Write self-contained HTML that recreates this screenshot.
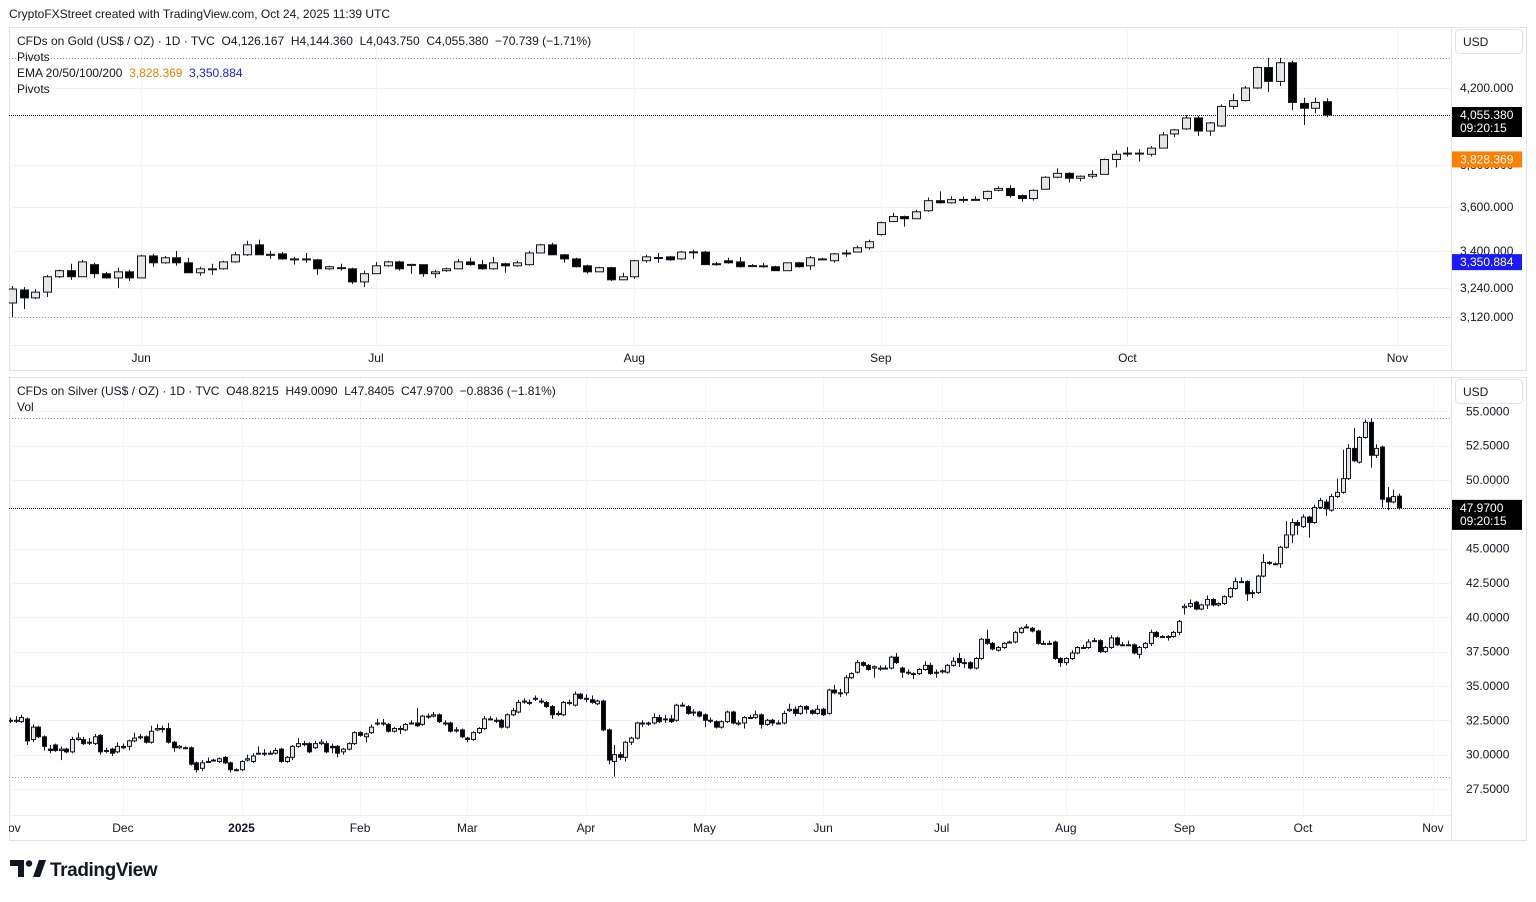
<!DOCTYPE html>
<html><head><meta charset="utf-8"><title>Gold vs Silver</title>
<style>
html,body{margin:0;padding:0;background:#fff;}
body{width:1536px;height:897px;overflow:hidden;font-family:"Liberation Sans",sans-serif;}
svg text{font-family:"Liberation Sans",sans-serif;white-space:pre;}
</style></head>
<body>
<svg id="chart" width="1536" height="897" viewBox="0 0 1536 897" xmlns="http://www.w3.org/2000/svg">
<rect x="0" y="0" width="1536" height="897" fill="#fff"/>
<defs>
<clipPath id="gclip"><rect x="9" y="28" width="1442" height="317"/></clipPath>
<clipPath id="sclip"><rect x="9" y="378" width="1442" height="437"/></clipPath>
<clipPath id="gtclip"><rect x="9" y="345" width="1442" height="26"/></clipPath>
<clipPath id="stclip"><rect x="9" y="815" width="1442" height="26"/></clipPath>
</defs>
<text x="9" y="18" font-size="12" fill="#131722">CryptoFXStreet created with TradingView.com, Oct 24, 2025 11:39 UTC</text>
<rect x="9.5" y="27.5" width="1517" height="343" fill="none" stroke="#e0e3eb"/>
<rect x="9.5" y="377.5" width="1517" height="463" fill="none" stroke="#e0e3eb"/>
<line x1="1451.5" y1="28" x2="1451.5" y2="371" stroke="#e0e3eb"/>
<line x1="1451.5" y1="378" x2="1451.5" y2="841" stroke="#e0e3eb"/>
<line x1="9" y1="345.5" x2="1451" y2="345.5" stroke="#eef0f4"/>
<line x1="9" y1="815.5" x2="1451" y2="815.5" stroke="#eef0f4"/>
<g id="gGrid"></g><g id="sGrid"></g>
<g id="gMarks" clip-path="url(#gclip)"></g>
<g id="sMarks" clip-path="url(#sclip)"></g>
<g id="gTime" clip-path="url(#gtclip)"></g>
<g id="sTime" clip-path="url(#stclip)"></g>
<g id="gAxis"></g><g id="sAxis"></g>
<g font-size="12" fill="#131722">
<text x="17" y="45" xml:space="preserve">CFDs on Gold (US$ / OZ) · 1D · TVC  O4,126.167  H4,144.360  L4,043.750  C4,055.380  −70.739 (−1.71%)</text>
<text x="17" y="61">Pivots</text>
<text x="17" y="77" xml:space="preserve">EMA 20/50/100/200  <tspan fill="#f57c00">3,828.369</tspan>  <tspan fill="#1a1aff">3,350.884</tspan></text>
<text x="17" y="93">Pivots</text>
</g>
<g font-size="12" fill="#131722">
<text x="17" y="395" xml:space="preserve">CFDs on Silver (US$ / OZ) · 1D · TVC  O48.8215  H49.0090  L47.8405  C47.9700  −0.8836 (−1.81%)</text>
<text x="17" y="411">Vol</text>
</g>
<g>
<rect x="1455.5" y="29.5" width="67" height="24" rx="4" fill="#fff" stroke="#e0e3eb"/>
<text x="1463" y="46" font-size="12" fill="#131722">USD</text></g>
<g>
<rect x="1455.5" y="379.5" width="67" height="24" rx="4" fill="#fff" stroke="#e0e3eb"/>
<text x="1463" y="396" font-size="12" fill="#131722">USD</text></g>
<g id="labels"></g>
<g>
<path d="M10 860 h14 v17 h-6 v-11 h-8 z" fill="#131722"/>
<circle cx="29" cy="863.5" r="3.2" fill="#131722"/>
<path d="M33 877 l6 -17 h7 l-6 17 z" fill="#131722"/>
<text x="50" y="876" font-size="19" font-weight="bold" fill="#131722" letter-spacing="-0.4">TradingView</text>
</g>
</svg>
<script>
// ---------- GOLD data ----------
const goldOpen=[3178,3232,3199,3223,3288,3314,3288,3340,3301,3283,
3309,3283,3378,3348,3370,3348,3305,3322,3322,3352,
3383,3427,3383,3387,3365,3362,3361,3322,3327,3322,
3266,3301,3335,3352,3340,3340,3301,3314,3322,3352,
3340,3322,3344,3335,3340,3391,3427,3383,3365,3335,
3309,3327,3275,3288,3357,3370,3374,3365,3395,3395,
3344,3357,3352,3335,3335,3331,3314,3348,3335,3361,
3357,3391,3395,3414,3473,3532,3555,3545,3582,3629,
3619,3634,3635,3639,3678,3687,3653,3639,3683,3741,
3760,3736,3746,3755,3828,3859,3860,3854,3885,3957,
3983,4040,3972,3998,4101,4132,4200,4313,4236,4340,
4117,4091,4126.167];
const goldClose=[3236,3199,3223,3288,3314,3288,3352,3301,3283,3309,
3283,3378,3348,3370,3348,3305,3322,3320,3352,3383,
3427,3383,3385,3365,3362,3365,3322,3331,3326,3266,
3301,3335,3352,3322,3341,3301,3309,3322,3352,3340,
3322,3348,3335,3348,3391,3427,3383,3365,3331,3309,
3327,3275,3288,3357,3374,3371,3361,3395,3396,3340,
3343,3348,3331,3336,3334,3314,3348,3331,3370,3365,
3387,3390,3414,3441,3527,3555,3545,3577,3629,3619,
3634,3635,3634,3673,3687,3653,3639,3678,3741,3760,
3736,3746,3755,3828,3854,3860,3859,3885,3952,3978,
4040,3972,4014,4101,4132,4200,4313,4236,4340,4122,
4091,4122,4055.38];
const goldHigh=[3249,3244,3236,3296,3318,3344,3361,3348,3309,3327,
3318,3383,3387,3378,3400,3370,3331,3344,3357,3396,
3445,3450,3400,3396,3374,3391,3365,3335,3344,3327,
3314,3352,3357,3357,3344,3340,3318,3327,3365,3370,
3361,3374,3348,3357,3400,3432,3436,3387,3370,3340,
3331,3331,3305,3361,3383,3391,3378,3400,3405,3400,
3352,3370,3374,3342,3348,3335,3348,3352,3378,3370,
3391,3405,3423,3450,3532,3573,3559,3586,3644,3673,
3649,3649,3649,3678,3697,3702,3658,3683,3746,3784,
3765,3750,3775,3833,3874,3890,3880,3895,3967,3983,
4055,4050,4019,4112,4169,4211,4319,4367,4367,4351,
4148,4148,4144.36];
const goldLow=[3120,3153,3194,3203,3283,3275,3288,3283,3279,3240,
3270,3283,3331,3344,3335,3305,3292,3296,3318,3348,
3378,3383,3365,3361,3340,3348,3296,3318,3314,3257,
3244,3301,3331,3314,3301,3288,3283,3309,3322,3335,
3318,3318,3305,3331,3335,3391,3383,3348,3327,3301,
3309,3270,3275,3279,3348,3348,3357,3361,3365,3340,
3335,3344,3327,3330,3327,3314,3314,3327,3318,3361,
3348,3374,3396,3405,3468,3532,3509,3545,3577,3615,
3615,3620,3629,3629,3673,3644,3624,3629,3683,3736,
3716,3721,3736,3755,3789,3843,3818,3843,3885,3941,
3978,3947,3947,3993,4086,4127,4195,4179,4211,4081,
4003,4065,4043.75];
const goldTicks=[4200,3800,3600,3400,3240,3120];
const goldTickLabels=["4,200.000","3,800.000","3,600.000","3,400.000","3,240.000","3,120.000"];
const goldMonths=["Jun","Jul","Aug","Sep","Oct","Nov"];
const goldMonthIdx=[11,31,53,74,95,118];
const goldPivots=[4367,3120];
const goldEma=[3828.369,3350.884];

// ---------- SILVER data ----------
const silverOpen=[32.5,32.5,32.4,32.6,31.1,32.0,31.3,30.4,30.7,30.3,
30.4,30.2,31.1,31.1,30.9,30.8,31.4,30.3,30.4,30.2,
30.6,30.6,31.0,31.3,31.3,30.9,31.8,31.9,31.9,30.9,
30.5,30.5,30.5,29.4,29.0,29.5,29.6,29.5,29.8,29.4,
28.9,28.9,29.6,29.5,30.1,30.1,30.1,30.1,30.4,29.5,
29.8,30.6,30.8,30.8,30.5,30.8,30.8,30.6,30.6,30.2,
30.4,30.8,31.6,31.3,31.6,32.3,32.3,32.2,31.7,31.9,
31.8,32.3,32.3,32.2,32.8,32.8,32.9,32.3,32.3,31.8,
31.8,31.2,31.1,31.6,31.9,32.6,32.5,32.5,32.0,32.9,
33.1,33.9,33.8,34.1,33.9,33.8,33.5,33.0,32.9,33.8,
33.6,34.4,34.1,34.0,33.7,33.9,31.8,29.5,30.0,29.8,
30.9,31.2,32.3,32.3,32.3,32.7,32.6,32.6,32.5,33.6,
33.5,33.1,33.1,32.9,32.5,32.4,32.0,32.4,33.1,32.3,
32.3,32.7,32.7,32.9,32.2,32.5,32.3,32.3,33.2,33.3,
33.0,33.5,33.2,33.0,33.3,33.0,34.7,34.5,34.5,35.6,
36.0,36.7,36.5,36.3,36.3,36.3,36.3,37.1,36.3,36.0,
35.9,35.9,36.2,36.5,36.0,36.1,36.0,36.5,37.0,36.7,
36.7,36.3,37.0,38.4,38.1,37.6,37.8,38.2,38.2,38.9,
39.3,39.2,39.0,38.1,38.1,38.2,37.0,36.7,37.0,37.4,
37.8,37.8,38.3,38.3,37.5,37.8,38.5,38.0,38.0,38.0,
37.3,37.8,38.1,38.9,38.6,38.6,38.6,38.9,40.7,40.8,
41.1,40.6,40.9,41.3,40.9,41.0,41.5,42.1,42.6,42.6,
41.8,41.8,43.0,44.0,43.9,43.9,45.1,46.0,46.9,46.6,
47.3,46.9,48.0,48.4,47.8,48.8,49.1,50.1,52.3,51.3,
53.1,54.2,51.8,52.4,48.7,48.4,48.8215];
const silverClose=[32.5,32.5,32.7,31.0,32.0,31.3,30.6,30.3,30.3,30.4,
30.2,31.1,31.2,30.8,30.9,31.3,30.2,30.3,30.1,30.6,
30.5,31.0,31.2,31.3,30.9,31.7,31.9,31.9,30.9,30.5,
30.6,30.5,29.3,28.9,29.4,29.5,29.6,29.7,29.4,28.9,
28.9,29.5,29.7,29.9,30.1,30.1,30.1,30.3,29.5,29.8,
30.6,30.8,30.8,30.2,30.8,30.9,30.2,30.5,30.1,30.4,
30.8,31.6,31.4,31.5,32.0,32.3,32.3,31.7,31.9,31.9,
32.2,32.3,32.1,32.8,32.8,32.9,32.4,32.3,31.7,31.8,
31.3,31.1,31.6,31.9,32.6,32.6,32.5,32.0,32.9,33.2,
33.8,33.9,33.8,34.1,33.9,33.5,32.9,33.0,33.8,33.8,
34.4,34.1,34.1,33.8,33.9,31.8,29.6,30.0,29.8,30.9,
31.2,32.3,32.3,32.3,32.7,32.4,32.6,32.4,33.6,33.6,
33.0,33.1,32.8,32.5,32.5,32.0,32.4,33.1,32.3,32.3,
32.7,32.7,32.9,32.2,32.5,32.3,32.3,33.0,33.3,33.0,
33.5,33.3,33.0,33.3,32.9,34.7,34.5,34.5,35.6,35.9,
36.7,36.5,36.2,36.4,36.3,36.3,37.1,36.7,36.0,36.0,
35.9,36.2,36.5,35.9,36.0,36.1,36.5,36.8,36.7,36.7,
36.3,37.0,38.4,38.1,37.7,37.8,38.1,38.2,38.9,39.2,
39.3,39.0,38.1,38.1,38.1,37.0,36.7,37.0,37.4,37.8,
37.8,38.2,38.3,37.5,37.8,38.5,38.0,38.0,38.0,37.4,
37.8,38.1,38.9,38.6,38.6,38.6,38.9,39.7,40.8,41.0,
40.6,40.9,41.3,40.9,41.0,41.5,42.1,42.6,42.6,41.7,
41.8,43.0,44.0,44.0,43.9,45.1,46.0,46.9,46.7,47.3,
46.9,48.0,48.5,47.9,48.8,49.1,50.1,52.3,51.4,53.1,
54.2,51.8,52.3,48.6,48.4,48.8,47.97];
const silverHigh=[32.7,32.8,32.9,32.7,32.2,32.1,31.4,30.7,30.8,30.6,
30.5,31.3,31.6,31.3,31.2,31.5,31.5,30.5,30.5,30.9,
30.8,31.1,31.6,31.5,31.4,32.1,32.2,32.1,32.3,31.0,
30.7,30.6,30.6,29.5,29.6,29.8,29.7,29.8,29.9,29.5,
29.0,29.6,30.0,30.1,30.6,30.4,30.3,30.5,30.5,29.9,
30.7,31.2,31.0,30.9,31.0,31.1,31.0,30.8,30.7,30.5,
30.9,31.7,31.7,31.6,32.2,32.6,32.6,32.3,32.0,32.1,
32.3,32.5,33.4,32.9,33.0,33.1,33.0,32.5,32.4,32.0,
31.9,31.3,31.7,32.0,32.8,32.8,32.7,32.6,33.0,33.4,
34.0,34.1,34.0,34.3,34.1,33.9,33.6,33.2,33.9,34.0,
34.6,34.5,34.4,34.3,34.0,34.0,31.9,30.7,30.2,31.0,
31.3,32.4,32.5,32.4,33.0,32.9,32.9,32.9,33.7,33.8,
33.6,33.3,33.2,33.0,32.7,32.5,32.5,33.2,33.2,32.5,
32.8,32.9,33.2,33.0,32.6,32.6,32.5,33.2,33.7,33.5,
33.6,33.6,33.3,33.6,33.4,34.8,35.1,34.8,35.8,36.0,
36.9,36.8,36.6,36.5,36.5,36.5,37.2,37.4,36.4,36.2,
36.0,36.3,36.8,36.7,36.2,36.2,36.6,37.1,37.4,37.0,
36.8,37.1,38.5,39.1,38.2,37.9,38.2,38.3,39.0,39.3,
39.5,39.3,39.1,38.3,38.3,38.3,37.1,37.1,37.6,37.9,
38.0,38.4,38.5,38.4,37.9,38.7,38.6,38.2,38.3,38.1,
37.9,38.2,39.1,39.0,38.7,38.7,39.0,39.8,41.0,41.3,
41.2,41.0,41.6,41.4,41.1,41.6,42.2,42.9,42.9,42.7,
42.0,43.1,44.6,44.1,44.0,45.2,47.0,47.2,47.1,47.5,
47.4,48.2,48.7,48.6,49.0,50.1,52.2,52.6,53.8,53.2,
54.4,54.5,52.6,52.5,49.5,49.3,49.009];
const silverLow=[32.3,32.3,32.3,30.7,30.9,31.2,30.3,30.1,30.2,29.6,
30.1,30.1,31.0,30.7,30.7,30.7,30.0,30.1,29.9,30.1,
30.4,30.3,30.9,31.1,30.8,30.8,31.7,31.6,30.8,30.2,
30.4,30.4,29.2,28.7,28.8,29.4,29.5,29.4,29.3,28.7,
28.8,28.8,29.5,29.4,30.0,29.9,30.0,30.0,29.4,29.4,
29.6,30.5,30.6,30.1,30.4,30.7,30.1,30.1,29.8,30.0,
30.3,30.7,31.3,30.9,31.5,32.1,32.1,31.6,31.6,31.5,
31.7,32.2,32.0,32.1,32.6,32.7,32.3,32.1,31.6,31.6,
31.2,30.9,31.0,31.5,31.8,32.5,32.3,31.9,31.9,32.8,
33.0,33.7,33.6,33.9,33.7,33.4,32.6,32.8,32.8,33.6,
33.5,34.0,33.8,33.7,33.6,31.7,29.3,28.4,29.6,29.5,
30.7,31.1,32.0,32.1,32.2,32.3,32.3,32.3,32.4,33.5,
32.9,32.8,32.7,32.0,32.3,31.9,31.9,32.3,32.2,32.1,
31.9,32.6,32.6,31.9,32.1,32.1,32.2,32.2,33.1,32.8,
32.9,33.0,32.9,32.9,32.8,32.9,34.4,34.2,34.3,35.5,
35.9,36.4,36.1,35.6,36.1,36.2,36.2,36.6,35.6,35.8,
35.5,35.8,36.1,35.8,35.6,35.9,35.9,36.4,36.4,36.3,
36.2,36.2,36.9,38.0,37.6,37.5,37.7,38.1,38.1,38.8,
39.2,38.9,38.0,38.0,38.0,36.9,36.4,36.5,36.9,37.3,
37.7,37.7,38.2,37.4,37.4,37.7,37.9,37.9,37.9,37.3,
37.0,37.7,37.9,38.5,38.5,38.3,38.5,38.7,40.2,40.7,
40.5,40.5,40.6,40.8,40.8,40.9,41.4,42.0,42.5,41.2,
41.4,41.7,42.9,43.8,43.8,43.6,45.0,45.4,46.0,46.5,
45.8,46.8,47.9,47.4,47.7,48.7,49.0,50.0,51.3,51.2,
53.0,50.9,51.6,48.0,47.8,48.3,47.8405];
const silverTicks=[55,52.5,50,45,42.5,40,37.5,35,32.5,30,27.5];
const silverTickLabels=["55.0000","52.5000","50.0000","45.0000","42.5000","40.0000","37.5000","35.0000","32.5000","30.0000","27.5000"];
const silverMonths=["Nov","Dec","2025","Feb","Mar","Apr","May","Jun","Jul","Aug","Sep","Oct","Nov"];
const silverMonthIdx=[0,20,41,62,81,102,123,144,165,187,208,229,252];
const silverPivots=[54.5,28.4];

// ---------- scales ----------
const NS="http://www.w3.org/2000/svg";
function el(tag,attrs,parent){const e=document.createElementNS(NS,tag);for(const k in attrs)e.setAttribute(k,attrs[k]);parent.appendChild(e);return e;}
const gy=p=>88-771*Math.log(p/4200);
const gStep=(1327-12)/(goldClose.length-1);
const gx=i=>12+i*gStep;
const sy=p=>480-(p-50)*13.73;
const sStep=(1399-10)/(silverClose.length-1);
const sx=i=>10+i*sStep;

function drawCandles(g,O,H,L,C,X,Y,bw,prefix){
  for(let i=0;i<C.length;i++){
    const x=Math.round(X(i))+0.5;
    const hi=Math.max(H[i],O[i],C[i]),lo=Math.min(L[i],O[i],C[i]);
    const w=el('line',{x1:x,x2:x,y1:Y(hi),y2:Y(lo),stroke:'#131722','stroke-width':1},g);
    
    
    const up=C[i]>=O[i];
    const top=Y(Math.max(O[i],C[i])),bot=Y(Math.min(O[i],C[i]));
    const h=Math.max(1,bot-top);
    const r=el('rect',{x:x-bw/2,y:top,width:bw,height:h,fill:up?'#e6e6e6':'#000',stroke:'#131722','stroke-width':1},g);
    
    
  }
}
function hline(g,y,x1,x2,dash,color,name){
  const l=el('line',{x1:x1,x2:x2,y1:Math.round(y)+0.5,y2:Math.round(y)+0.5,stroke:color,'stroke-width':1},g);
  if(dash)l.setAttribute('stroke-dasharray',dash);
  
  
}
function priceTag(g,y,bg,lines,name){
  const hgt=lines.length>1?30:16;
  const top=y-8;
  const r=el('rect',{x:1452,y:top,width:70,height:hgt,fill:bg},g);
  
  
  lines.forEach((t,k)=>{const tx=el('text',{x:1460,y:top+12+k*13,'font-size':12,fill:'#fff'},g);tx.textContent=t;
    
    });
}

// ---------- GOLD ----------
const gGrid=document.getElementById('gGrid'),gMarks=document.getElementById('gMarks'),gAxis=document.getElementById('gAxis'),gTime=document.getElementById('gTime');
goldTicks.forEach((t,k)=>{
  hline(gGrid,gy(t),9,1451,null,'#f2f3f5','gold-gridline');
  const tx=el('text',{x:1460,y:gy(t)+4,'font-size':12,fill:'#131722'},gAxis);tx.textContent=goldTickLabels[k];
  
  
});
goldMonthIdx.forEach((m,k)=>{
  const x=gx(m);
  const vl=el('line',{x1:Math.round(x)+0.5,x2:Math.round(x)+0.5,y1:28,y2:345,stroke:'#f4f5f7'},gGrid);
  
  
  const tx=el('text',{x:x,y:362,'font-size':12,'text-anchor':'middle',fill:'#131722'},gTime);tx.textContent=goldMonths[k];
  
  
});
goldPivots.forEach(p=>hline(gMarks,gy(p),9,1451,'1,2','#9598a1','gold-pivot-line'));
hline(gMarks,gy(goldClose[goldClose.length-1]),9,1451,'1,1','#131722','gold-last-price-line');
drawCandles(gMarks,goldOpen,goldHigh,goldLow,goldClose,gx,gy,8,'gold');
const labels=document.getElementById('labels');
priceTag(labels,gy(goldClose[goldClose.length-1]),'#000',[goldClose[goldClose.length-1].toLocaleString('en-US',{minimumFractionDigits:3}),'09:20:15'],'gold-last-price-tag');
priceTag(labels,gy(goldEma[0]),'#ff7f00',[goldEma[0].toLocaleString('en-US',{minimumFractionDigits:3})],'ema-fast-tag');
priceTag(labels,gy(goldEma[1]),'#1a1aff',[goldEma[1].toLocaleString('en-US',{minimumFractionDigits:3})],'ema-slow-tag');

// ---------- SILVER ----------
const sGrid=document.getElementById('sGrid'),sMarks=document.getElementById('sMarks'),sAxis=document.getElementById('sAxis'),sTime=document.getElementById('sTime');
silverTicks.forEach((t,k)=>{
  hline(sGrid,sy(t),9,1451,null,'#f2f3f5','silver-gridline');
  const tx=el('text',{x:1466,y:sy(t)+4,'font-size':12,fill:'#131722'},sAxis);tx.textContent=silverTickLabels[k];
  
  
});
silverMonthIdx.forEach((m,k)=>{
  const x=sx(m);
  const vl=el('line',{x1:Math.round(x)+0.5,x2:Math.round(x)+0.5,y1:378,y2:815,stroke:'#f4f5f7'},sGrid);
  
  
  const tx=el('text',{x:x,y:832,'font-size':12,'font-weight':silverMonths[k]==='2025'?'bold':'normal','text-anchor':'middle',fill:'#131722'},sTime);tx.textContent=silverMonths[k];
  
  
});
silverPivots.forEach(p=>hline(sMarks,sy(p),9,1451,'1,2','#9598a1','silver-pivot-line'));
hline(sMarks,sy(silverClose[silverClose.length-1]),9,1451,'1,1','#131722','silver-last-price-line');
drawCandles(sMarks,silverOpen,silverHigh,silverLow,silverClose,sx,sy,4,'silver');
priceTag(labels,sy(silverClose[silverClose.length-1]),'#000',[silverClose[silverClose.length-1].toFixed(4),'09:20:15'],'silver-last-price-tag');
</script>
</body></html>
